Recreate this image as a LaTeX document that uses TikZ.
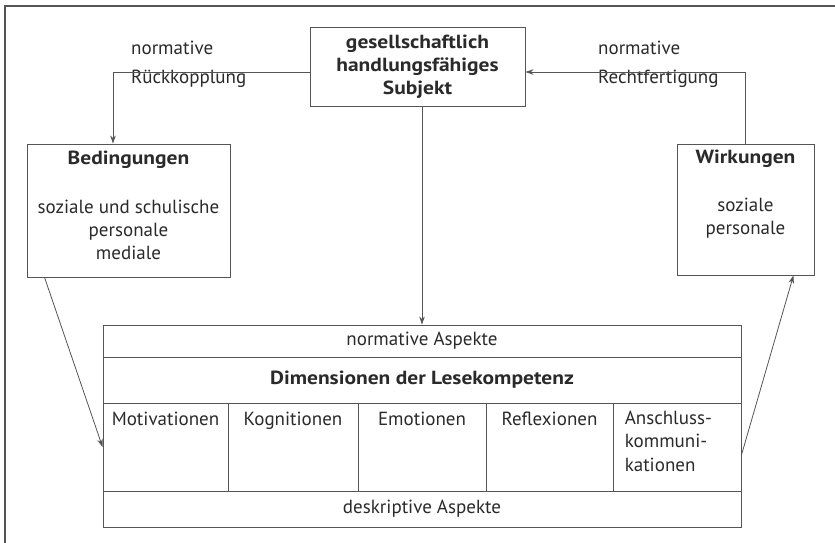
\documentclass[tikz,border=0pt]{standalone}
\usepackage{fontspec}
\setmainfont{PT Sans}
\usetikzlibrary{arrows.meta}
\definecolor{txt}{HTML}{2A2A2A}
\definecolor{ln}{HTML}{555555}
\newcommand{\mybold}{\bfseries\addfontfeature{FakeStretch=1.13}}
\tikzset{
  box/.style={draw=ln, line width=0.9pt, rectangle, inner sep=0pt, text=txt, align=center},
  cell/.style={draw=ln, line width=0.9pt, rectangle, inner sep=0pt},
  lbl/.style={text=txt, inner sep=0pt, font=\fontsize{19}{23}\selectfont},
  conn/.style={draw=ln, line width=0.8pt, -{Stealth[length=8pt,width=5.5pt]}},
}
\begin{document}
\begin{tikzpicture}[x=1pt,y=-1pt, font=\fontsize{19}{23}\selectfont]
\useasboundingbox (0,0) rectangle (835,543);
% frame
\draw[ln, line width=1.2pt] (5,543) -- (5,6) -- (835,6);

% top box
\node[box, minimum width=215pt, minimum height=79pt, font=\fontsize{19}{23}\selectfont\mybold] (subj) at (417.5,66.5)
  {gesellschaftlich\\handlungsfähiges\\Subjekt};

% Bedingungen
\node[box, minimum width=203pt, minimum height=133pt] (bed) at (128.5,210.5) {};
\node[lbl, font=\fontsize{19}{23}\selectfont\mybold] (bedT) at (128.5,160) {Bedingungen};
\node[lbl, align=center] (bedB) at (128.5,230) {soziale und schulische\\personale\\mediale};

% Wirkungen
\node[box, minimum width=137pt, minimum height=131pt] (wir) at (745.5,209.5) {};
\node[lbl, font=\fontsize{19}{23}\selectfont\mybold] (wirT) at (745.5,159) {Wirkungen};
\node[lbl, align=center] (wirB) at (745.5,218.5) {soziale\\personale};

% table
\node[cell, minimum width=638pt, minimum height=32pt] (r1) at (422,341) {};
\node[lbl] (r1t) at (r1.center) {normative Aspekte};
\node[cell, minimum width=638pt, minimum height=46pt] (r2) at (422,380) {};
\node[lbl, font=\fontsize{19}{23}\selectfont\mybold] (r2t) at (r2.center) {Dimensionen der Lesekompetenz};
\node[cell, minimum width=125pt, minimum height=88pt] (c1) at (165.5,447) {};
\node[cell, minimum width=130pt, minimum height=88pt] (c2) at (293,447) {};
\node[cell, minimum width=128pt, minimum height=88pt] (c3) at (422,447) {};
\node[cell, minimum width=127pt, minimum height=88pt] (c4) at (549.5,447) {};
\node[cell, minimum width=128pt, minimum height=88pt] (c5) at (677,447) {};
\node[lbl, anchor=north] (c1t) at ([yshift=-9pt]c1.north) {Motivationen};
\node[lbl, anchor=north] (c2t) at ([yshift=-9pt]c2.north) {Kognitionen};
\node[lbl, anchor=north] (c3t) at ([yshift=-9pt]c3.north) {Emotionen};
\node[lbl, anchor=north] (c4t) at ([yshift=-9pt]c4.north) {Reflexionen};
\node[lbl, anchor=north west, align=left, font=\fontsize{19}{23.5}\selectfont] (c5t) at ([xshift=12pt,yshift=-8pt]c5.north west) {Anschluss-\\kommuni-\\kationen};
\node[cell, minimum width=638pt, minimum height=36pt] (r4) at (422,509) {};
\node[lbl] (r4t) at (r4.center) {deskriptive Aspekte};

% connector labels
\node[lbl, anchor=west] (l1) at (131,48) {normative};
\node[lbl, anchor=west] (l2) at (131,79) {Rückkopplung};
\node[lbl, anchor=west] (l3) at (598,48) {normative};
\node[lbl, anchor=west] (l4) at (598,79) {Rechtfertigung};

% connectors
\draw[conn] ([yshift=-5.5pt]subj.west) -| ([xshift=-15.5pt]bed.north);
\draw[conn] (wir.north) |- ([yshift=-5.5pt]subj.east);
\draw[conn] (r1.north |- subj.south) -- (r1.north);
\draw[conn] ([xshift=18pt]bed.south west) -- (c1.west);
\draw[conn] ([yshift=-8pt]c5.east) -- ([xshift=-21pt]wir.south east);
\end{tikzpicture}
\end{document}
